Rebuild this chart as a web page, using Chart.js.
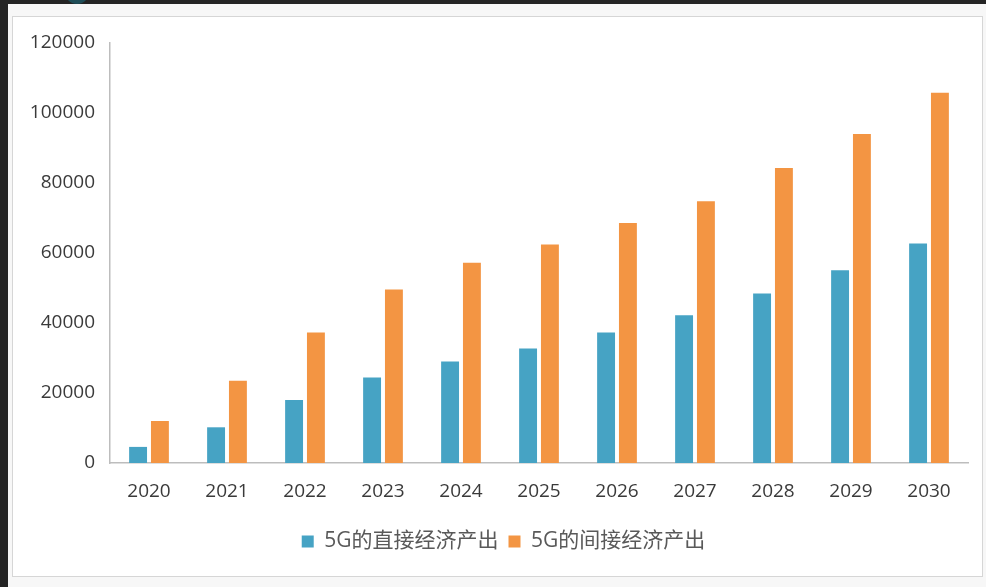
<!DOCTYPE html>
<html>
<head>
<meta charset="utf-8">
<script src="https://cdn.jsdelivr.net/npm/chart.js@4/dist/chart.umd.min.js"></script>
<style>
  html, body { margin: 0; padding: 0; }
  body { width: 986px; height: 587px; background: #242424; position: relative; overflow: hidden; }
  #sheet { position: absolute; left: 8px; top: 4px; width: 978px; height: 583px; background: #f7f7f7; }
  #frame { position: absolute; left: 12px; top: 16px; width: 971px; height: 561px; background: #ffffff;
           border: 1px solid #d6d6d6; box-sizing: border-box; }
  #badge { position: absolute; left: 64px; top: -24px; width: 26px; height: 28px; border-radius: 50%;
           background: #1f4d57; }
  #wrap { position: absolute; left: 0; top: 0; width: 986px; height: 587px; }
</style>
</head>
<body>
<div id="sheet"></div>
<div id="frame"></div>
<div id="badge"></div>
<div id="wrap"><canvas id="c" width="986" height="587"></canvas></div>
<script>
// Years on the category axis
const years = ['2020', '2021', '2022', '2023', '2024', '2025', '2026', '2027', '2028', '2029', '2030'];

// Series names
const directName = '5G的直接经济产出';
const indirectName = '5G的间接经济产出';

// 5G direct economic output per year
const directOutput = [4600, 10200, 18000, 24400, 29000, 32700, 37300, 42200, 48400, 55100, 62700];

// 5G indirect economic output per year
const indirectOutput = [12000, 23500, 37300, 49600, 57200, 62400, 68600, 74800, 84300, 94000, 105800];

// Value-axis tick labels
const yTickLabels = ['0', '20000', '40000', '60000', '80000', '100000', '120000'];

const tickFont = { family: '"Open Sans", "Noto Sans CJK SC", sans-serif', size: 19 };

// Centre the legend under the plot area rather than under the whole canvas
const legendShift = {
  id: 'legendShift',
  afterLayout(chart) {
    if (chart.legend) {
      chart.legend.left += 39;
    }
  }
};

new Chart(document.getElementById('c'), {
  type: 'bar',
  data: {
    labels: years,
    datasets: [
      { label: directName, data: directOutput, backgroundColor: '#46A3C4',
        categoryPercentage: 0.56, barPercentage: 0.82 },
      { label: indirectName, data: indirectOutput, backgroundColor: '#F39543',
        categoryPercentage: 0.56, barPercentage: 0.82 }
    ]
  },
  plugins: [legendShift],
  options: {
    responsive: false,
    animation: false,
    devicePixelRatio: 1,
    layout: { padding: { left: 0, right: 18, top: 43, bottom: 25 } },
    plugins: {
      tooltip: { enabled: false },
      legend: {
        position: 'bottom',
        labels: {
          color: '#595959',
          boxWidth: 12,
          boxHeight: 12,
          padding: 10,
          font: { family: '"Open Sans", "Noto Sans CJK SC", sans-serif', size: 21 }
        }
      }
    },
    scales: {
      x: {
        grid: { display: false, drawTicks: false },
        border: { display: true, color: '#bdbdbd', width: 1.5 },
        ticks: { color: '#3a3a3a', font: tickFont, padding: 17, maxRotation: 0 },
        afterFit: (s) => { s.height = 58; }
      },
      y: {
        min: 0,
        max: 120000,
        grid: { display: false, drawTicks: false },
        border: { display: true, color: '#bdbdbd', width: 1.5 },
        ticks: {
          stepSize: 20000,
          color: '#3a3a3a',
          font: tickFont,
          padding: 15,
          callback: (v, i) => yTickLabels[i]
        },
        afterFit: (s) => { s.width = 110; }
      }
    }
  }
});
</script>
</body>
</html>
